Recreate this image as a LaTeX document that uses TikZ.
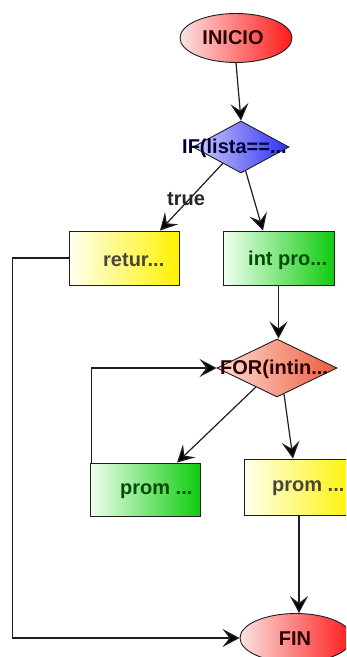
\documentclass[tikz,border=0pt]{standalone}
\usepackage{fontspec}
\setmainfont{Liberation Sans}
\usetikzlibrary{shapes.geometric,arrows.meta}

\definecolor{edgegray}{HTML}{1E1E1E}
\definecolor{redL}{HTML}{FBE2E2}
\definecolor{redR}{HTML}{FF1A1A}
\definecolor{blueL}{HTML}{D0D0F6}
\definecolor{blueR}{HTML}{2E2EFA}
\definecolor{yelL}{HTML}{FFFFF0}
\definecolor{yelR}{HTML}{FFF200}
\definecolor{grnL}{HTML}{F0FFF0}
\definecolor{grnR}{HTML}{10CC10}
\definecolor{salL}{HTML}{FCE0D6}
\definecolor{salR}{HTML}{EE5A3A}

\tikzset{
  outline/.style={draw=edgegray, line width=0.9pt},
  startend/.style={outline, ellipse, inner sep=0pt, minimum width=112pt, minimum height=49pt,
    left color=redL, right color=redR},
  decision/.style={outline, diamond, inner sep=0pt},
  procbox/.style={outline, rectangle, inner sep=0pt, minimum width=110pt, minimum height=54pt},
  yellowbox/.style={procbox, left color=yelL, right color=yelR},
  greenbox/.style={procbox, left color=grnL, right color=grnR},
  lbl/.style={inner sep=0pt, font=\fontsize{20}{20}\selectfont\bfseries},
  flow/.style={draw=edgegray, line width=1.2pt,
    -{Stealth[length=17pt, width=18pt, inset=7pt, fill=black]}}
}

\begin{document}
\begin{tikzpicture}[x=1pt, y=-1pt]
  \useasboundingbox (0,0) rectangle (346,657);
  \clip (0,0) rectangle (346,657);
  \fill[white] (0,0) rectangle (346,657);

  % shapes
  \node[startend] (inicio) at (236,38) {};
  \node[decision, minimum width=96pt, minimum height=52pt,
        left color=blueL, right color=blueR] (ifd) at (241,147) {};
  \node[yellowbox] (retur) at (124,258) {};
  \node[greenbox, minimum width=111pt] (intpro) at (278.5,258) {};
  \node[decision, minimum width=120pt, minimum height=58pt,
        left color=salL, right color=salR] (ford) at (277,368) {};
  \node[greenbox, minimum height=53pt] (promg) at (145,489.5) {};
  \node[yellowbox, minimum height=56pt] (promy) at (299,487) {};
  \node[startend] (fin) at (296,638) {};

  % connectors
  \draw[flow] (inicio.south) -- (ifd.north);
  \draw[flow] (ifd.222) -- ([xshift=36pt]retur.north);
  \draw[flow] (ifd.281) -- ([xshift=-15.5pt]intpro.north);
  \draw[flow] (intpro.south) -- (intpro.south |- ford.north);
  \draw[flow] (ford.222) -- ([xshift=32pt]promg.north);
  \draw[flow] (ford.285) -- ([xshift=-6pt]promy.north);
  \draw[flow] ([xshift=2pt]promg.north west) |- (ford.west);
  \draw[flow] (promy.south) -- (promy.south |- fin.north);
  \draw[flow] (retur.west) -- ++(-56,0) |- (fin.west);

  % texts
  \node[lbl, text=black!70!red!60!black] (tinicio) at (233,38) {INICIO};
  \node[lbl, anchor=west, text=black!80!blue] (tifd) at (182,148) {IF(lista==...};
  \node[lbl, text=black!85] (ttrue) at (186,199) {true};
  \node[lbl, anchor=west, text=black!75!yellow!70!black] (tretur) at (103,260) {retur...};
  \node[lbl, anchor=west, text=green!30!black] (tintpro) at (248,260) {int pro...};
  \node[lbl, anchor=west, text=black!70!red!60!black] (tford) at (220,369) {FOR(intin...};
  \node[lbl, anchor=west, text=green!30!black] (tpromg) at (120,491) {prom ...};
  \node[lbl, anchor=west, text=black!75!yellow!70!black] (tpromy) at (272,488) {prom ...};
  \node[lbl, text=black!70!red!60!black] (tfin) at (295,639) {FIN};
\end{tikzpicture}
\end{document}
